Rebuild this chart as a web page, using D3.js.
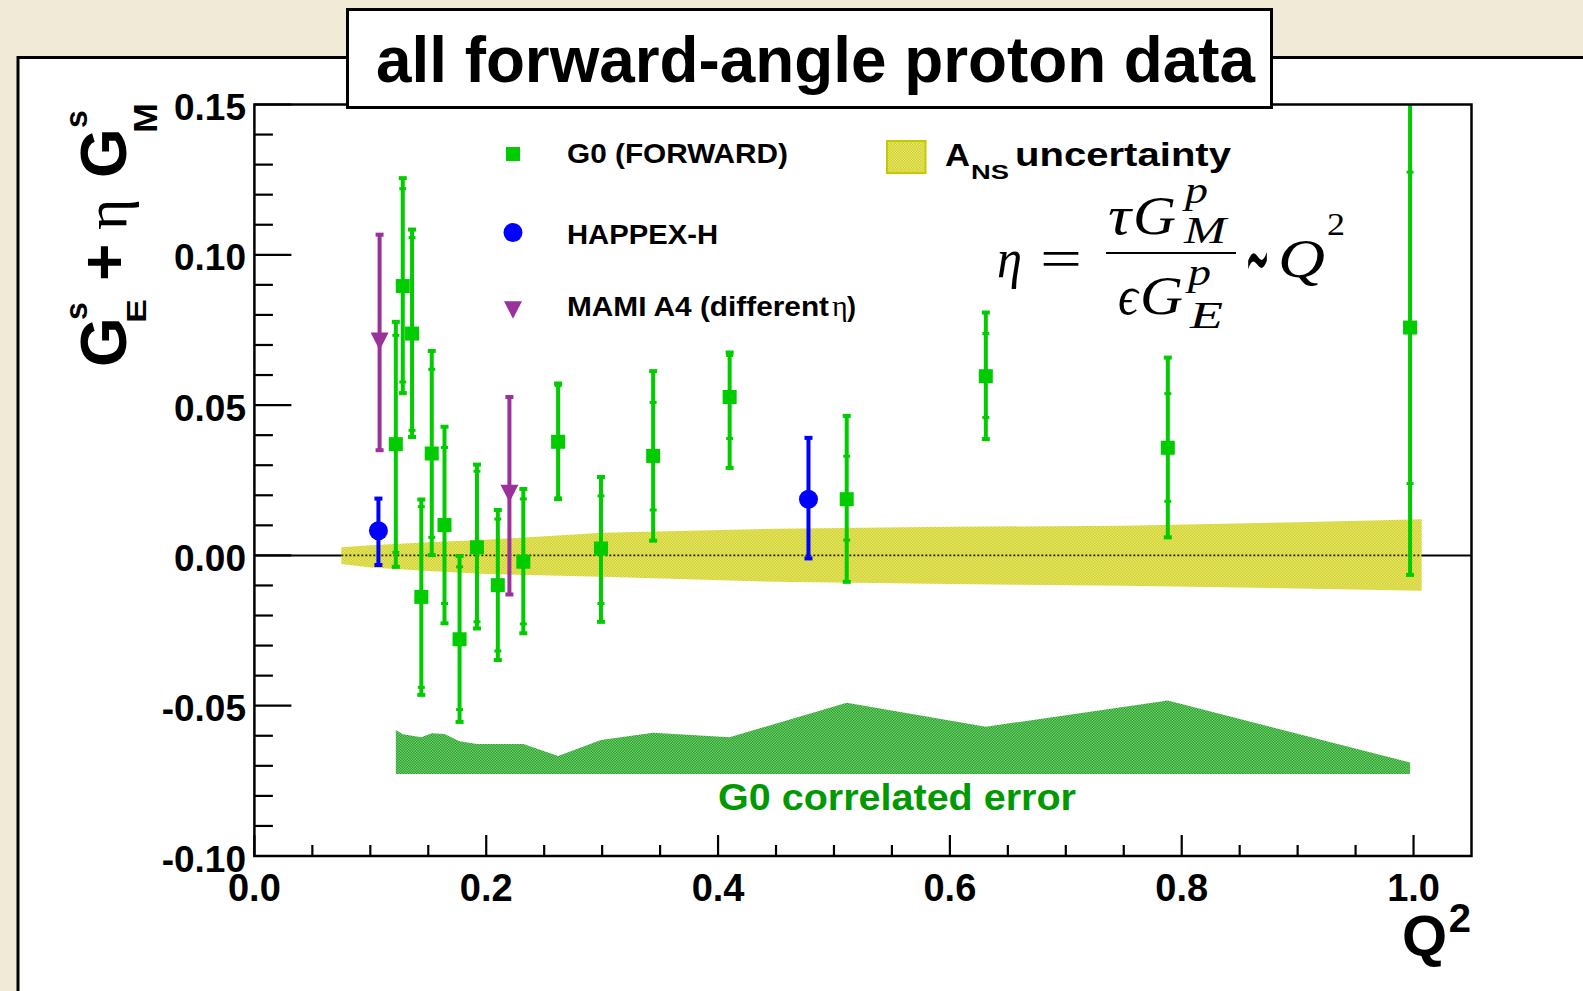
<!DOCTYPE html>
<html><head><meta charset="utf-8">
<script src="https://cdn.jsdelivr.net/npm/d3@7/dist/d3.min.js"></script>
<style>html,body{margin:0;padding:0;background:#f0ead6;overflow:hidden}</style>
</head><body>
<script>
// ---------------- data ----------------
const g0Q      = [0.122,0.128,0.136,0.144,0.153,0.164,0.177,0.192,0.210,0.232,0.262,0.299,0.344,0.410,0.511,0.631,0.788,0.997];
const g0Val    = [0.0370,0.0896,0.0738,-0.0138,0.0339,0.0101,-0.0279,0.0027,-0.0099,-0.0021,0.0378,0.0023,0.0331,0.0527,0.0187,0.0596,0.0358,0.0758];
const g0StatUp = [0.0362,0.0324,0.0319,0.0300,0.0280,0.0258,0.0241,0.0253,0.0220,0.0209,0.0187,0.0175,0.0178,0.0138,0.0143,0.0142,0.0180,0.0517];
const g0StatDn = [0.0360,0.0319,0.0322,0.0301,0.0279,0.0261,0.0234,0.0248,0.0219,0.0207,0.0186,0.0183,0.0180,0.0138,0.0136,0.0137,0.0178,0.0519];
const g0TotUp  = [0.0407,0.0359,0.0346,0.0324,0.0341,0.0327,0.0277,0.0275,0.0250,0.0242,0.0194,0.0238,0.0282,0.0148,0.0277,0.0212,0.0300,0.0823];
const g0TotDn  = [0.0408,0.0356,0.0344,0.0326,0.0338,0.0327,0.0275,0.0270,0.0249,0.0238,0.0191,0.0244,0.0282,0.0236,0.0275,0.0209,0.0298,0.0823];
const corrTop  = [-0.0581,-0.0595,-0.0600,-0.0605,-0.0592,-0.0594,-0.0618,-0.0627,-0.0627,-0.0627,-0.0667,-0.0614,-0.0590,-0.0605,-0.0490,-0.0570,-0.0483,-0.0689];
const corrBottom = -0.0727;

const happexQ  = [0.107,0.478];
const happexV  = [0.0082,0.0187];
const happexUp = [0.0107,0.0204];
const happexDn = [0.0114,0.0197];

const mamiQ  = [0.108,0.220];
const mamiV  = [0.0712,0.0206];
const mamiUp = [0.0355,0.0321];
const mamiDn = [0.0362,0.0336];

const ansQ  = [0.075,0.10,0.15,0.20,0.30,0.45,0.60,0.75,0.90,1.007];
const ansHi = [0.0027,0.0034,0.0044,0.0052,0.0075,0.0089,0.0095,0.0099,0.0110,0.0120];
const ansLo = [-0.0029,-0.0040,-0.0052,-0.0062,-0.0071,-0.0088,-0.0095,-0.0101,-0.0110,-0.0118];

const yTicks = [-0.10,-0.05,0.00,0.05,0.10,0.15];
const xTicks = [0.0,0.2,0.4,0.6,0.8,1.0];
const legendLabels = ["G0 (FORWARD)","HAPPEX-H","MAMI A4 (different"];
const titleText = "all forward-angle proton data";

// ---------------- setup ----------------
const W = 1583, H = 991;
const SANS = "'Liberation Sans', Arial, Helvetica, sans-serif";
const SERIF = "'Liberation Serif', 'DejaVu Serif', serif";
const GREEN = "#00cc00", BLUE = "#0000ff", PURPLE = "#993399", DKGREEN = "#009900", YEL = "#c8c800";

const svg = d3.select("body").append("svg").attr("width", W).attr("height", H);
const defs = svg.append("defs");
function checker(id, color, base){
  const c = 1.333;
  const p = defs.append("pattern").attr("id", id).attr("patternUnits","userSpaceOnUse")
    .attr("width",2*c).attr("height",2*c);
  p.append("rect").attr("x",0).attr("y",0).attr("width",2*c).attr("height",2*c).attr("fill",base);
  p.append("rect").attr("x",0).attr("y",0).attr("width",c).attr("height",c).attr("fill",color);
  p.append("rect").attr("x",c).attr("y",c).attr("width",c).attr("height",c).attr("fill",color);
}
checker("chkY", YEL, "#eeee98");
checker("chkG", "#009900", "#98d498");

const x = d3.scaleLinear().domain([0,1.05]).range([254.4,1471.5]);
const y = d3.scaleLinear().domain([-0.10,0.15]).range([856,104.5]);

defs.append("clipPath").attr("id","frameClip").append("rect")
  .attr("x", x(0)).attr("y", y(0.15)).attr("width", x(1.05)-x(0)).attr("height", y(-0.10)-y(0.15));

function txt(g, s, tx, ty, o){
  const t = g.append("text").attr("x",tx).attr("y",ty).text(s)
    .attr("font-family", o.ff || SANS).attr("font-size", o.fs)
    .attr("font-weight", o.fw || "bold").attr("fill", o.fill || "#000");
  if (o.fst) t.attr("font-style", o.fst);
  if (o.anchor) t.attr("text-anchor", o.anchor);
  if (o.len) t.attr("textLength", o.len).attr("lengthAdjust","spacingAndGlyphs");
  return t;
}

// background + white pad
svg.append("rect").attr("width",W).attr("height",H).attr("fill","#f0ead6");
svg.append("rect").attr("x",18).attr("y",57.5).attr("width",1700).attr("height",1200)
  .attr("fill","#fff").attr("stroke","#000").attr("stroke-width",3);

// ---------------- plot ----------------
const plot = svg.append("g");
const clipped = plot.append("g").attr("clip-path","url(#frameClip)");

// zero line
clipped.append("line").attr("x1",x(0)).attr("x2",x(1.05)).attr("y1",y(0)).attr("y2",y(0))
  .attr("stroke","#000").attr("stroke-width",2);

// A_NS band
const ansData = ansQ.map((q,i)=>({q, hi:ansHi[i], lo:ansLo[i]}));
clipped.append("path").datum(ansData)
  .attr("d", d3.area().x(d=>x(d.q)).y0(d=>y(d.lo)).y1(d=>y(d.hi)))
  .attr("fill","url(#chkY)");
// zero line seen through the hatch
clipped.append("line").attr("x1",x(ansQ[0])).attr("x2",x(ansQ[ansQ.length-1])).attr("y1",y(0)).attr("y2",y(0))
  .attr("stroke","#000").attr("stroke-width",1.6).attr("stroke-dasharray","2,2").attr("opacity",0.8);

// G0 correlated band
const corrData = g0Q.map((q,i)=>({q, top:corrTop[i]}));
clipped.append("path").datum(corrData)
  .attr("d", d3.area().x(d=>x(d.q)).y0(y(corrBottom)).y1(d=>y(d.top)))
  .attr("fill","url(#chkG)");

// G0 points
g0Q.forEach((q,i)=>{
  const cx = x(q), v = g0Val[i];
  const g = clipped.append("g");
  g.append("line").attr("x1",cx).attr("x2",cx)
    .attr("y1",y(v+g0TotUp[i])).attr("y2",y(v-g0TotDn[i]))
    .attr("stroke",GREEN).attr("stroke-width",4);
  [v+g0TotUp[i], v-g0TotDn[i]].forEach(e=>{
    g.append("rect").attr("x",cx-4).attr("y",y(e)-2).attr("width",8).attr("height",4).attr("fill",GREEN);
  });
  [v+g0StatUp[i], v-g0StatDn[i]].forEach(e=>{
    g.append("rect").attr("x",cx-3.5).attr("y",y(e)-1.5).attr("width",7).attr("height",3).attr("fill",GREEN);
  });
  g.append("rect").attr("x",cx-7).attr("y",y(v)-7).attr("width",14).attr("height",14).attr("fill",GREEN);
});

// HAPPEX points
happexQ.forEach((q,i)=>{
  const cx = x(q), v = happexV[i];
  clipped.append("line").attr("x1",cx).attr("x2",cx)
    .attr("y1",y(v+happexUp[i])).attr("y2",y(v-happexDn[i]))
    .attr("stroke",BLUE).attr("stroke-width",4);
  [v+happexUp[i], v-happexDn[i]].forEach(e=>{
    clipped.append("rect").attr("x",cx-4).attr("y",y(e)-2).attr("width",8).attr("height",4).attr("fill",BLUE);
  });
  clipped.append("circle").attr("cx",cx).attr("cy",y(v)).attr("r",9.5).attr("fill",BLUE);
});

// MAMI points
const tri = (cx,cy)=>`M${cx-9},${cy-8.8} L${cx+9},${cy-8.8} L${cx},${cy+8.8} Z`;
mamiQ.forEach((q,i)=>{
  const cx = x(q), v = mamiV[i];
  clipped.append("line").attr("x1",cx).attr("x2",cx)
    .attr("y1",y(v+mamiUp[i])).attr("y2",y(v-mamiDn[i]))
    .attr("stroke",PURPLE).attr("stroke-width",4);
  [v+mamiUp[i], v-mamiDn[i]].forEach(e=>{
    clipped.append("rect").attr("x",cx-4).attr("y",y(e)-2).attr("width",8).attr("height",4).attr("fill",PURPLE);
  });
  clipped.append("path").attr("d",tri(cx,y(v))).attr("fill",PURPLE);
});

// frame
plot.append("rect").attr("x",x(0)).attr("y",y(0.15)).attr("width",x(1.05)-x(0)).attr("height",y(-0.10)-y(0.15))
  .attr("fill","none").attr("stroke","#000").attr("stroke-width",2.5);

// y ticks
const yMinor = d3.range(-10,16).map(k=>k/100);
yMinor.forEach(t=>{
  const major = Math.abs(Math.round(t*100)%5)===0;
  plot.append("line").attr("x1",x(0)).attr("x2",x(0)+(major?37:18.5)).attr("y1",y(t)).attr("y2",y(t))
    .attr("stroke","#000").attr("stroke-width",2.2);
});
yTicks.forEach(t=>{
  txt(plot, t.toFixed(2), 246, y(t)+15.5, {fs:37, anchor:"end"});
});
// x ticks
const xMinor = d3.range(0,21).map(k=>k*0.05);
xMinor.forEach(t=>{
  const major = Math.abs(Math.round(t*100)%20)===0;
  plot.append("line").attr("x1",x(t)).attr("x2",x(t)).attr("y1",y(-0.10)).attr("y2",y(-0.10)-(major?21:11))
    .attr("stroke","#000").attr("stroke-width",2.2);
});
xTicks.forEach(t=>{
  txt(plot, t.toFixed(1), x(t), 901, {fs:38, anchor:"middle"});
});

// axis titles
txt(svg, "Q", 1402, 956, {fs:58});
txt(svg, "2", 1471, 931.5, {fs:40, anchor:"end"});

const yl = svg.append("g").attr("transform","translate(126,367) rotate(-90)");
txt(yl, "G", 0, 0, {fs:64});
txt(yl, "s", 47, -39, {fs:32});
txt(yl, "E", 44, 20, {fs:28, len:24});
txt(yl, "+", 86, 0, {fs:64});
txt(yl, "\u03B7", 137, 0, {fs:60, ff:SERIF, fw:"normal"});
txt(yl, "G", 189, 0, {fs:64});
txt(yl, "s", 239, -39, {fs:32});
txt(yl, "M", 234, 31, {fs:33, len:30});

// legend
const lg = svg.append("g");
lg.append("rect").attr("x",506).attr("y",147).attr("width",14).attr("height",14).attr("fill",GREEN);
lg.append("circle").attr("cx",513).attr("cy",232.5).attr("r",9.5).attr("fill",BLUE);
lg.append("path").attr("d",tri(513,310)).attr("fill",PURPLE);
txt(lg, legendLabels[0], 567, 162.5, {fs:28, len:221});
txt(lg, legendLabels[1], 567, 244, {fs:27, len:151});
txt(lg, legendLabels[2], 567, 316, {fs:27, len:262});
txt(lg, "\u03B7", 832, 316, {fs:30, ff:SERIF, fw:"normal"});
txt(lg, ")", 847, 316, {fs:27});

lg.append("rect").attr("x",887).attr("y",141).attr("width",38.5).attr("height",32)
  .attr("fill","url(#chkY)").attr("stroke",YEL).attr("stroke-width",2);
txt(lg, "A", 945, 165.5, {fs:32, len:25});
txt(lg, "NS", 971, 178.5, {fs:21, len:38});
txt(lg, "uncertainty", 1015, 165.5, {fs:33, len:216});

// formula
const fm = svg.append("g");
const fsz = 54, ssz = 37;
const it = {ff:SERIF, fw:"normal", fst:"italic"};
txt(fm, "\u03B7", 997, 277, {...it, fs:fsz, len:25});
txt(fm, "=", 1040, 277, {fs:fsz, ff:SERIF, fw:"normal", len:42});
fm.append("line").attr("x1",1106).attr("x2",1236).attr("y1",253).attr("y2",253).attr("stroke","#000").attr("stroke-width",2);
txt(fm, "\u03C4", 1108, 234, {...it, fs:fsz, len:23});
txt(fm, "G", 1133, 234, {...it, fs:fsz, len:43});
txt(fm, "p", 1185, 203, {...it, fs:ssz, len:23});
txt(fm, "M", 1184, 243, {...it, fs:ssz, len:42});
txt(fm, "\u03F5", 1118, 314, {...it, fs:fsz, len:20});
txt(fm, "G", 1140, 314, {...it, fs:fsz, len:43});
txt(fm, "p", 1188, 285, {...it, fs:ssz, len:23});
txt(fm, "E", 1190, 328, {...it, fs:ssz, len:33});
txt(fm, "\u223C", 1245, 292, {fs:100, ff:"'DejaVu Sans', sans-serif", fw:"normal", len:25});
txt(fm, "Q", 1278, 277, {...it, fs:fsz, len:47});
txt(fm, "2", 1327, 235, {fs:31, ff:SERIF, fw:"normal", len:18});

// correlated error label
txt(svg, "G0 correlated error", 718, 810, {fs:37, fill:DKGREEN, len:358});

// title box
svg.append("rect").attr("x",347.5).attr("y",9.5).attr("width",924).attr("height",98)
  .attr("fill","#fff").attr("stroke","#000").attr("stroke-width",3);
txt(svg, titleText, 376, 82, {fs:64, len:879});
</script>
</body></html>
